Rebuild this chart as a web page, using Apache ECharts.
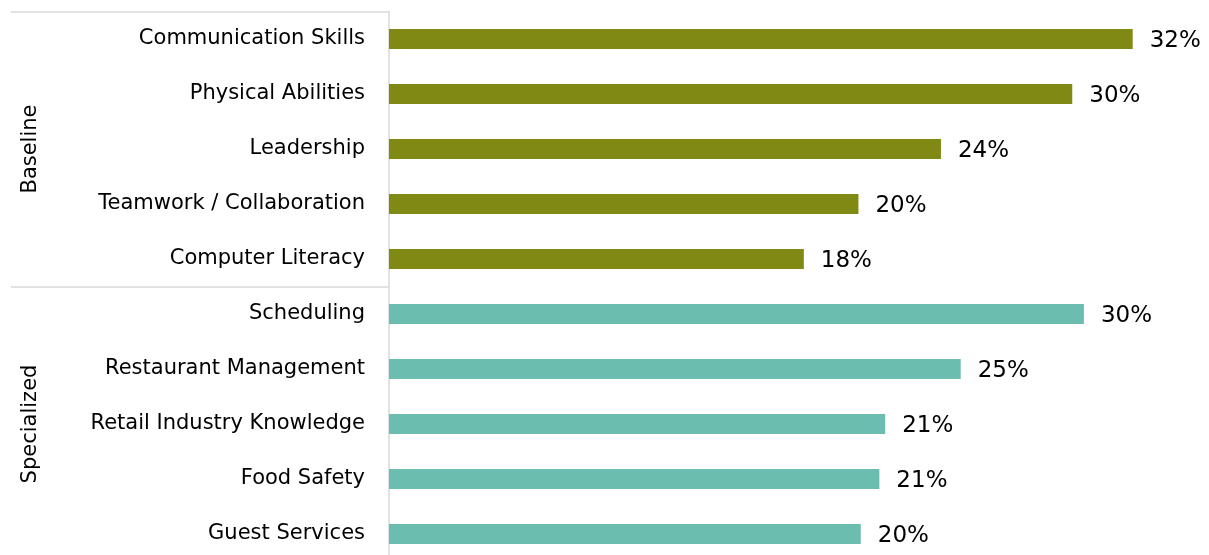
<!DOCTYPE html>
<html><head><meta charset="utf-8">
<script src="https://cdn.jsdelivr.net/npm/echarts@6/dist/echarts.min.js"></script>
<style>html,body{margin:0;padding:0;background:#fff}#c{width:1209px;height:555px}</style>
</head><body><div id="c"></div>
<script>
const categories = ['Communication Skills','Physical Abilities','Leadership','Teamwork / Collaboration','Computer Literacy','Scheduling','Restaurant Management','Retail Industry Knowledge','Food Safety','Guest Services'];
const values = [32.0, 29.4, 23.75, 20.2, 17.85, 29.9, 24.6, 21.35, 21.1, 20.3];
const valueLabels = ['32%','30%','24%','20%','18%','30%','25%','21%','21%','20%'];
const itemGroup = [0,0,0,0,0,1,1,1,1,1];
const groups = ['Baseline','Specialized'];
const groupColors = ['#7F8913','#6BBDAF'];

const FONT = 'DejaVu Sans';
const chart = echarts.init(document.getElementById('c'));
chart.setOption({
  animation: false,
  grid: {left: 389, top: 11.5, height: 550, width: 813.4, containLabel: false, outerBoundsMode: 'none'},
  xAxis: {type: 'value', min: 0, max: 35, show: false},
  yAxis: [{
    type: 'category', data: categories, inverse: true,
    axisLine: {show: true, lineStyle: {color: '#d9d9d9', width: 1.5}},
    axisTick: {show: false},
    axisLabel: {margin: 24, fontFamily: FONT, fontSize: 21, color: '#000', padding: [3, 0, 0, 0]}
  }, {
    type: 'category', data: groups, inverse: true, position: 'left',
    axisLine: {show: false},
    axisTick: {show: true, length: 378, lineStyle: {color: '#d9d9d9', width: 1.5}},
    axisLabel: {rotate: 90, margin: 348, fontFamily: FONT, fontSize: 21, color: '#000'}
  }],
  series: [{
    type: 'bar', yAxisIndex: 0, barWidth: 20,
    data: values.map((v, i) => ({value: v, itemStyle: {color: groupColors[itemGroup[i]]}})),
    label: {show: true, position: 'right', distance: 17, offset: [0, 2], fontFamily: FONT, fontSize: 23, color: '#000',
      formatter: p => valueLabels[p.dataIndex]}
  }]
});
</script></body></html>
